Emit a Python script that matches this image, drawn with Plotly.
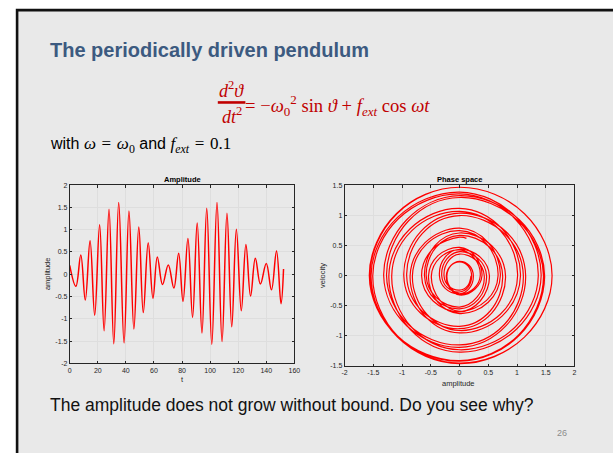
import plotly.graph_objects as go

W, H = 613, 453

# Turning points of the swing angle: time and angle at each extremum
t_ext = [0.0, 4.4, 7.9, 11.1, 14.5, 17.8, 21.3, 24.5, 28.0, 31.4, 34.9, 38.7, 42.2, 45.7,
         49.2, 52.4, 55.9, 59.3, 62.4, 66.1, 70.2, 74.2, 77.6, 80.7, 84.2, 87.5, 90.8, 94.2,
         97.6, 101.2, 104.9, 108.5, 112.0, 115.4, 118.7, 122.2, 125.5, 128.8, 132.2, 135.8,
         140.0, 143.7, 147.3, 150.5]
theta_ext = [0.20, -0.27, 0.43, -0.58, 0.75, -0.92, 1.11, -1.27, 1.46, -1.56, 1.61, -1.54,
             1.42, -1.23, 1.06, -0.86, 0.71, -0.54, 0.39, -0.23, 0.21, -0.31, 0.47, -0.61,
             0.80, -0.97, 1.15, -1.32, 1.48, -1.57, 1.61, -1.51, 1.37, -1.18, 1.01, -0.82,
             0.67, -0.49, 0.36, -0.22, 0.24, -0.35, 0.52, -0.66]
# Last sample of the run
t_end, theta_end = 152.3, 0.12

# Phase-space path, four samples per half swing:
# turning point, mid-way, zero crossing, mid-way
phase_angle = [
    0.20, 0.14, 0, -0.19,   -0.27, -0.19, 0, 0.30,   0.43, 0.30, 0, -0.41,
    -0.58, -0.41, 0, 0.53,  0.75, 0.53, 0, -0.65,    -0.92, -0.65, 0, 0.78,
    1.11, 0.78, 0, -0.89,   -1.27, -0.89, 0, 1.02,   1.46, 1.02, 0, -1.09,
    -1.56, -1.09, 0, 1.13,  1.61, 1.13, 0, -1.08,    -1.54, -1.08, 0, 0.99,
    1.42, 0.99, 0, -0.86,   -1.23, -0.86, 0, 0.74,   1.06, 0.74, 0, -0.60,
    -0.86, -0.60, 0, 0.50,  0.71, 0.50, 0, -0.38,    -0.54, -0.38, 0, 0.27,
    0.39, 0.27, 0, -0.16,   -0.23, -0.16, 0, 0.15,   0.21, 0.15, 0, -0.22,
    -0.31, -0.22, 0, 0.33,  0.47, 0.33, 0, -0.43,    -0.61, -0.43, 0, 0.56,
    0.80, 0.56, 0, -0.68,   -0.97, -0.68, 0, 0.81,   1.15, 0.81, 0, -0.92,
    -1.32, -0.92, 0, 1.04,  1.48, 1.04, 0, -1.10,    -1.57, -1.10, 0, 1.13,
    1.61, 1.13, 0, -1.06,   -1.51, -1.06, 0, 0.96,   1.37, 0.96, 0, -0.83,
    -1.18, -0.83, 0, 0.71,  1.01, 0.71, 0, -0.57,    -0.82, -0.57, 0, 0.47,
    0.67, 0.47, 0, -0.34,   -0.49, -0.34, 0, 0.25,   0.36, 0.25, 0, -0.15,
    -0.22, -0.15, 0, 0.17,  0.24, 0.17, 0, -0.25,    -0.35, -0.25, 0, 0.36,
    0.52, 0.36, 0, -0.46,   -0.66, -0.46, 0, 0.12,
]
phase_velocity = [
    0, -0.17, -0.24, -0.17,  0, 0.25, 0.36, 0.25,    0, -0.36, -0.52, -0.36,
    0, 0.47, 0.67, 0.47,     0, -0.59, -0.84, -0.59,  0, 0.70, 1.00, 0.70,
    0, -0.81, -1.15, -0.81,  0, 0.91, 1.30, 0.91,     0, -0.99, -1.41, -0.99,
    0, 1.03, 1.47, 1.03,     0, -1.02, -1.46, -1.02,  0, 0.97, 1.39, 0.97,
    0, -0.89, -1.27, -0.89,  0, 0.78, 1.12, 0.78,     0, -0.67, -0.95, -0.67,
    0, 0.55, 0.79, 0.55,     0, -0.44, -0.63, -0.44,  0, 0.33, 0.47, 0.33,
    0, -0.22, -0.32, -0.22,  0, 0.16, 0.23, 0.16,     0, -0.19, -0.27, -0.19,
    0, 0.28, 0.40, 0.28,     0, -0.39, -0.55, -0.39,  0, 0.50, 0.71, 0.50,
    0, -0.62, -0.88, -0.62,  0, 0.73, 1.04, 0.73,     0, -0.83, -1.19, -0.83,
    0, 0.93, 1.33, 0.93,     0, -0.99, -1.42, -0.99,  0, 1.03, 1.47, 1.03,
    0, -1.02, -1.45, -1.02,  0, 0.95, 1.36, 0.95,     0, -0.86, -1.23, -0.86,
    0, 0.75, 1.07, 0.75,     0, -0.64, -0.91, -0.64,  0, 0.53, 0.75, 0.53,
    0, -0.41, -0.59, -0.41,  0, 0.30, 0.43, 0.30,     0, -0.21, -0.30, -0.21,
    0, 0.17, 0.24, 0.17,     0, -0.21, -0.30, -0.21,  0, 0.31, 0.44, 0.31,
    0, -0.42, -0.60, -0.42,  0, 0.45, 0.64, 0.62,
]

# Tick values
t_ticks = [0, 20, 40, 60, 80, 100, 120, 140, 160]
amp_ticks = [-2, -1.5, -1, -0.5, 0, 0.5, 1, 1.5, 2]
phase_x_ticks = [-2, -1.5, -1, -0.5, 0, 0.5, 1, 1.5, 2]
phase_v_ticks = [-1.5, -1, -0.5, 0, 0.5, 1, 1.5]


def label(v):
    return "%g" % v


def px(x):
    return x / W


def py(y):
    return 1 - y / H


SANS = "Arial, Liberation Sans, sans-serif"
SERIF = "Cambria Math, Liberation Serif, DejaVu Serif, serif"
AX = "#262626"
GRID = "#dedede"
RED = "#c00000"
SP = "\u2004"

fig = go.Figure()
fig.add_trace(go.Scatter(x=t_ext + [t_end], y=theta_ext + [theta_end], mode="lines",
                         line=dict(color="#ff0000", width=1.5, shape="spline", smoothing=1.1),
                         xaxis="x", yaxis="y", showlegend=False, hoverinfo="skip"))
fig.add_trace(go.Scatter(x=phase_angle, y=phase_velocity, mode="lines",
                         line=dict(color="#ff0000", width=1.2, shape="spline", smoothing=1.1),
                         xaxis="x2", yaxis="y2", showlegend=False, hoverinfo="skip"))

common = dict(showgrid=True, gridcolor=GRID, gridwidth=1, zeroline=False,
              showline=True, linecolor=AX, linewidth=0.8, mirror="ticks",
              ticks="inside", ticklen=2.5, tickwidth=0.8, tickcolor=AX,
              tickfont=dict(family=SANS, size=7, color=AX), fixedrange=True)

fig.update_layout(
    width=W, height=H, margin=dict(l=0, r=0, t=0, b=0),
    paper_bgcolor="white", plot_bgcolor="white",
    xaxis=dict(domain=[px(67.7), px(295.7)], range=[0, 160], anchor="y",
               tickvals=t_ticks, ticktext=[label(v) for v in t_ticks], **common),
    yaxis=dict(domain=[py(365), py(184)], range=[-2, 2], anchor="x",
               tickvals=amp_ticks, ticktext=[label(v) for v in amp_ticks], **common),
    xaxis2=dict(domain=[px(346.7), px(580)], range=[-2, 2], anchor="y2",
                tickvals=phase_x_ticks, ticktext=[label(v) for v in phase_x_ticks], **common),
    yaxis2=dict(domain=[py(367.7), py(184.3)], range=[-1.5, 1.5], anchor="x2",
                tickvals=phase_v_ticks, ticktext=[label(v) for v in phase_v_ticks], **common),
)

shapes = [
    # slide panel with its dark frame
    dict(type="rect", xref="paper", yref="paper", x0=px(14.3), x1=1.05, y0=-0.05, y1=py(6.2),
         fillcolor="#e9e9e9", line=dict(color="#111111", width=2.6), layer="below"),
    # fraction bar of d2theta/dt2
    dict(type="line", xref="paper", yref="paper", x0=px(218), x1=px(246), y0=py(100), y1=py(100),
         line=dict(color=RED, width=2.6)),
]
fig.update_layout(shapes=shapes)

ann = []


def text(x, y, s, size, color="#000000", family=SANS, xa="left", ya="middle", angle=0):
    ann.append(dict(x=px(x), y=py(y), xref="paper", yref="paper", text=s, showarrow=False,
                    xanchor=xa, yanchor=ya, textangle=angle, borderpad=0,
                    font=dict(family=family, size=size, color=color)))


MATH = "font-family:Liberation Serif;font-size:17px"
text(47, 47, "<b>The periodically driven pendulum</b>", 20, color="#3c5a80")
text(232, 87, "<i>d</i><sup>2</sup><i>ϑ</i>", 18, color=RED, family=SERIF, xa="center")
text(232, 113, "<i>dt</i><sup>2</sup>", 18, color=RED, family=SERIF, xa="center")
text(245, 103, "= −<i>ω</i><sub>0</sub><sup>2</sup> sin <i>ϑ</i> + <i>f</i><sub><i>ext</i></sub> cos <i>ωt</i>",
     18.6, color=RED, family=SERIF)
text(47, 143, "with <span style=\"" + MATH + "\"><i>ω</i>" + SP + "=" + SP + "<i>ω</i><sub>0</sub></span>"
     " and <span style=\"" + MATH + "\"><i>f</i><sub><i>ext</i></sub>" + SP + "=" + SP + "0.1</span>", 16)
text(47, 407, "The amplitude does not grow without bound. Do you see why?", 17.5, color="#111111")
text(567, 436, "26", 9, color="#8c8c8c", xa="center")

# panel titles and axis labels
text(181.7, 178.3, "<b>Amplitude</b>", 7.5, color="#000000", xa="center")
text(463.3, 178.3, "<b>Phase space</b>", 7.5, color="#000000", xa="center")
text(182.3, 381.7, "t", 7.5, color=AX, xa="center")
text(45, 274, "amplitude", 7.5, color=AX, xa="center", angle=-90)
text(462.7, 385, "amplitude", 7.5, color=AX, xa="center")
text(324, 276, "velocity", 7.5, color=AX, xa="center", angle=-90)

fig.update_layout(annotations=ann)
fig.write_html("out.html")
